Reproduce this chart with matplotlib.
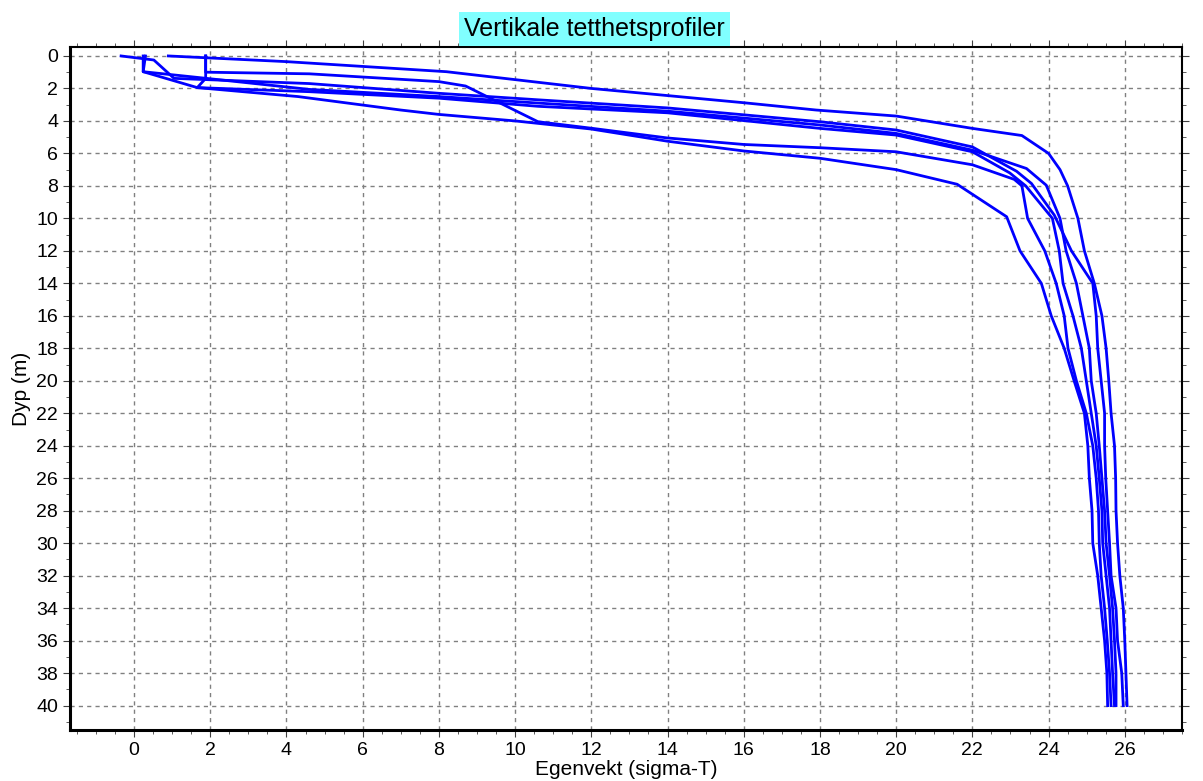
import matplotlib
matplotlib.use('Agg')
import matplotlib.pyplot as plt
from matplotlib.ticker import MultipleLocator

plt.rcParams['font.family'] = ['Liberation Sans', 'DejaVu Sans']

## Data: sigma-T (x) against depth in m (y), one pair of lists per profile
sigma_p1 = [0.9, 4.0, 8.2, 12.0, 16.0, 17.9, 20.0, 22.0, 23.3, 24.0, 24.3, 24.5, 24.77,
            24.94, 25.2, 25.4, 25.51, 25.58, 25.64, 25.73, 25.76, 25.77, 25.81, 25.87, 25.96, 26.0, 26.03, 26.06]
depth_p1 = [0, 0.35, 0.97, 2.0, 2.88, 3.33, 3.7, 4.46, 4.9, 6, 7, 8, 10,
            12, 14, 16, 18, 20, 22, 24, 26, 28, 30, 32, 34, 36, 38, 40]

sigma_p2 = [-0.34, 0.52, 1.05, 4.6, 8.0, 10.6, 14.0, 18.0, 20.0, 22.0, 23.16, 23.55, 24.15,
            24.6, 25.16, 25.25, 25.29, 25.38, 25.47, 25.47, 25.5, 25.55, 25.6, 25.64, 25.77, 25.81, 25.92, 25.96]
depth_p2 = [0, 0.25, 1.38, 1.7, 2.3, 2.7, 3.2, 4.05, 4.56, 5.6, 7.1, 7.85, 9.8,
            12, 14, 16, 18, 20, 22, 24, 26, 28, 30, 32, 34, 36, 38, 40]

sigma_p3 = [0.3, 0.24, 1.9, 4.6, 8.0, 10.6, 14.0, 18.0, 20.0, 22.0, 23.42, 23.94, 24.3,
            24.46, 24.73, 24.9, 25.07, 25.12, 25.25, 25.33, 25.4, 25.47, 25.51, 25.6, 25.68, 25.73, 25.77, 25.77]
depth_p3 = [0, 0.97, 1.38, 2.06, 2.5, 2.9, 3.4, 4.25, 4.77, 5.8, 6.93, 7.96, 10,
            12, 14, 16, 18, 20, 22, 24, 26, 28, 30, 32, 34, 36, 38, 40]

sigma_p4 = [1.88, 1.88, 1.66, 4.6, 8.0, 10.6, 14.0, 18.0, 20.0, 22.0, 22.98, 23.4, 24.1,
            24.28, 24.38, 24.64, 24.86, 24.99, 25.12, 25.25, 25.33, 25.4, 25.42, 25.51, 25.6, 25.64, 25.68, 25.73]
depth_p4 = [0, 1.38, 1.95, 2.2, 2.6, 3.1, 3.5, 4.46, 4.87, 5.9, 7.2, 8, 10,
            12, 14, 16, 18, 20, 22, 24, 26, 28, 30, 32, 34, 36, 38, 40]

sigma_p5 = [1.88, 1.88, 4.6, 8.0, 8.7, 10.6, 12.0, 14.0, 16.0, 18.0, 20.0, 22.0, 23.1, 23.3, 23.45,
            23.9, 24.2, 24.41, 24.51, 24.73, 24.99, 25.16, 25.25, 25.31, 25.33, 25.38, 25.47, 25.54, 25.6, 25.64]
depth_p5 = [0, 1.0, 1.1, 1.58, 1.85, 4.05, 4.45, 5.05, 5.45, 5.65, 5.9, 6.7, 7.6, 8, 10,
            12, 14, 16, 18, 20, 22, 24, 26, 28, 30, 32, 34, 36, 38, 40]

sigma_p6 = [0.24, 0.24, 1.66, 4.3, 7.0, 8.0, 10.0, 12.0, 14.0, 16.0, 18.0, 20.0, 21.6, 22.9,
            23.25, 23.81, 24.07, 24.41, 24.67, 24.94, 25.03, 25.07, 25.14, 25.16, 25.29, 25.38, 25.47, 25.53, 25.55]
depth_p6 = [0, 0.97, 1.95, 2.5, 3.33, 3.6, 4.0, 4.5, 5.25, 5.85, 6.3, 7.0, 7.9, 9.9,
            12, 14, 16, 18, 20, 22, 24, 26, 28, 30, 32, 34, 36, 38, 40]

profiles = [(sigma_p1, depth_p1), (sigma_p2, depth_p2), (sigma_p3, depth_p3),
            (sigma_p4, depth_p4), (sigma_p5, depth_p5), (sigma_p6, depth_p6)]

## Plot
fig = plt.figure(figsize=(12.03, 7.81), dpi=100)
ax = fig.add_axes([0.0582, 0.0653, 0.9243, 0.8745])

for s, d in profiles:
    ax.plot(s, d, color='#0000FF', lw=2)

ax.set_xlim(-1.68, 27.5)
ax.set_ylim(41.5, -0.55)
ax.xaxis.set_major_locator(MultipleLocator(2))
ax.xaxis.set_minor_locator(MultipleLocator(0.5))
ax.yaxis.set_major_locator(MultipleLocator(2))
ax.yaxis.set_minor_locator(MultipleLocator(1))
ax.set_xticks([0, 2, 4, 6, 8, 10, 12, 14, 16, 18, 20, 22, 24, 26])

ax.grid(True, which='major', color='#808080', ls=(0, (3, 3)), lw=1)
ax.tick_params(which='both', top=True, right=True, labelsize=14, color='#404040')
ax.tick_params(which='major', length=5)
ax.tick_params(which='minor', length=3)
for sp in ax.spines.values():
    sp.set_linewidth(1.5)
    sp.set_color('black')
ax.spines['bottom'].set_linewidth(2.2)
ax.spines['left'].set_linewidth(2.2)

ax.set_xlabel('Egenvekt (sigma-T)', fontsize=15, labelpad=1)
ax.set_ylabel('Dyp (m)', fontsize=15, labelpad=4)

fig.text(0.494, 0.963, 'Vertikale tetthetsprofiler', fontsize=18, ha='center', va='center',
         bbox=dict(boxstyle='square,pad=0.2', fc='#80FFFF', ec='none'))

fig.savefig('out.png', dpi=100)
